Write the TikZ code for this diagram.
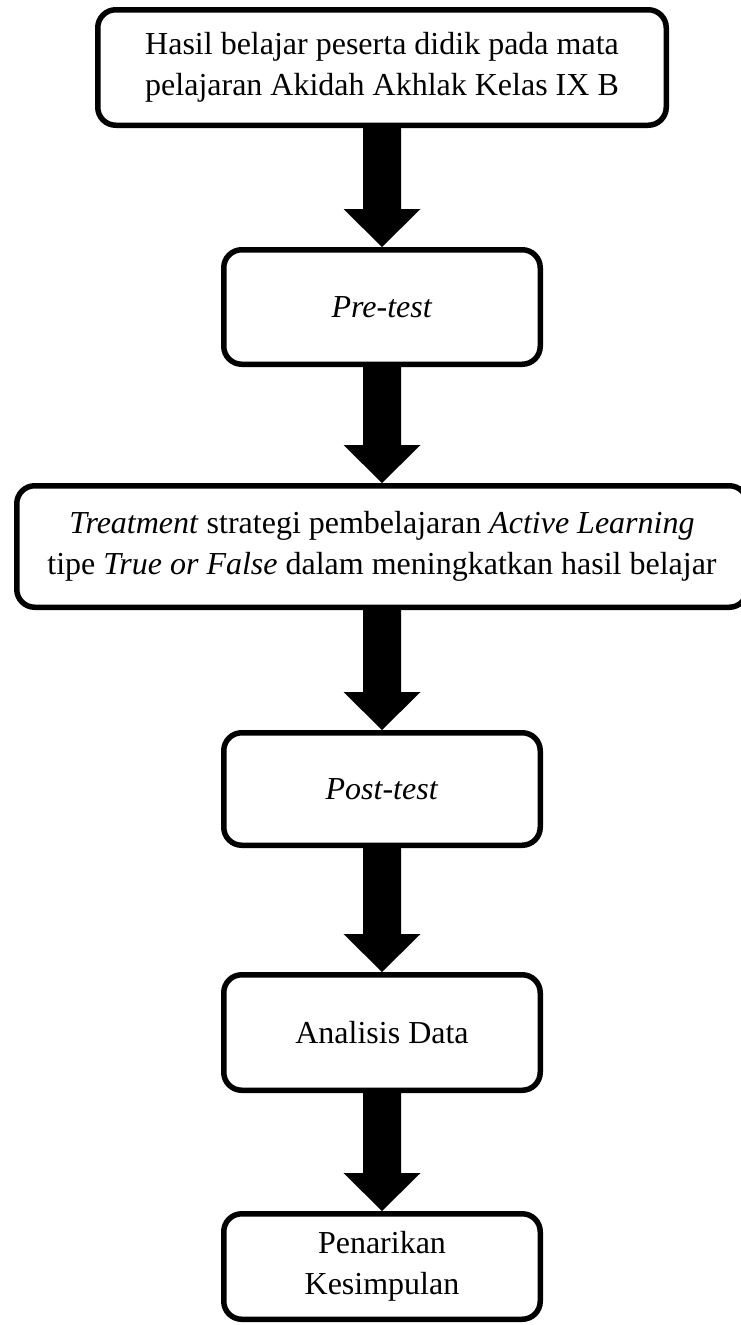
\documentclass[tikz,border=0pt]{standalone}
\usepackage{fontspec}
\setmainfont{Liberation Serif}
\tikzstyle{stepbox}=[%
	draw, fill=white,
	line width=5.5pt,
	rounded corners=18pt,
	align=center, inner sep=0pt,
	font=\fontsize{32}{41}\selectfont
]
\tikzstyle{flow}=[fill=black]

\begin{document}
\begin{tikzpicture}[x=1pt, y=-1pt]
	\def\bw{316.5pt}
	\def\sh{19}
	\def\hd{38.5}

	% Background, frame
	\fill[white] (0,0) rectangle (741,1325);
	\useasboundingbox (0,0) rectangle (741,1325);

	% % Boxes
	\node[stepbox, minimum width=568.5pt, minimum height=115.5pt] (hasil) at (382,67.5)
		{Hasil belajar peserta didik pada mata\\pelajaran Akidah Akhlak Kelas IX B};
	\node[stepbox, minimum width=\bw, minimum height=114.5pt] (pre) at (382,307)
		{\textit{Pre-test}};
	\node[stepbox, minimum width=730.5pt, minimum height=121.5pt] (treat) at (382,546.5)
		{\textit{Treatment} strategi pembelajaran \textit{Active Learning}\\tipe \textit{True or False} dalam meningkatkan hasil belajar};
	\node[stepbox, minimum width=\bw, minimum height=112.5pt] (post) at (382,789)
		{\textit{Post-test}};
	\node[stepbox, minimum width=\bw, minimum height=115.5pt] (analisis) at (382,1032.5)
		{Analisis Data};
	\node[stepbox, minimum width=\bw, minimum height=105.5pt] (simpul) at (382,1266.5)
		{Penarikan\\Kesimpulan};

	% % Arrows
	\foreach \a/\b in {hasil/pre, pre/treat, treat/post, post/analisis, analisis/simpul} {
		\fill[flow] ([xshift=-\sh pt]\a.south) -- ([xshift=-\sh pt, yshift=38pt]\b.north)
			-- ([xshift=-\hd pt, yshift=38pt]\b.north) -- (\b.north)
			-- ([xshift=\hd pt, yshift=38pt]\b.north) -- ([xshift=\sh pt, yshift=38pt]\b.north)
			-- ([xshift=\sh pt]\a.south) -- cycle;
	}

\end{tikzpicture}
\end{document}
